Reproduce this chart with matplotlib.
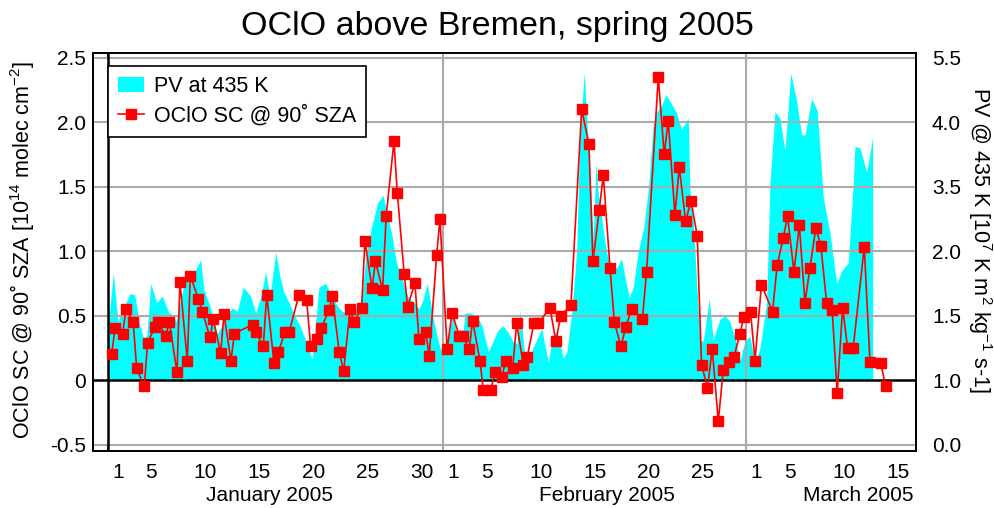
import matplotlib
matplotlib.use("Agg")
import matplotlib.pyplot as plt

plt.rcParams['font.family'] = ['Liberation Sans', 'DejaVu Sans']
plt.rcParams['mathtext.fontset'] = 'custom'
plt.rcParams['mathtext.rm'] = 'Liberation Sans'
plt.rcParams['mathtext.it'] = 'Liberation Sans:italic'
plt.rcParams['mathtext.bf'] = 'Liberation Sans:bold'

# Data: x is days since 1 Jan 2005 00:00 UT

# OClO slant columns at 90 deg SZA (morning and evening twilight), 1e14 molec/cm2
oclo_day = [
    0.34, 0.65, 1.35, 1.66, 2.33, 2.65, 3.35, 3.66, 4.34, 4.65,
    5.33, 5.67, 6.38, 6.65, 7.33, 7.61, 8.35, 8.72, 9.43, 9.73,
    10.41, 10.72, 11.37, 11.68, 13.37, 13.68, 14.35, 14.67, 15.35, 15.75,
    16.36, 16.73, 17.65, 18.36, 18.73, 19.34, 19.69, 20.43, 20.73, 21.37,
    21.78, 22.37, 22.74, 23.44, 23.75, 24.40, 24.72, 25.38, 25.71, 26.43,
    26.74, 27.38, 27.69, 28.37, 28.74, 29.36, 29.69, 30.38, 30.68, 31.35,
    31.80, 32.47, 32.78, 33.39, 33.70, 34.38, 34.69, 35.37, 35.77, 36.39,
    36.76, 37.40, 37.77, 38.38, 38.75, 39.37, 39.77, 40.85, 41.40, 41.84,
    42.79, 43.78, 44.45, 44.82, 45.41, 45.78, 46.40, 46.80, 47.41, 47.85,
    48.40, 49.39, 49.78, 50.86, 51.41, 51.78, 52.40, 52.80, 53.39, 53.88,
    54.46, 54.86, 55.41, 55.85, 56.41, 56.87, 57.40, 57.86, 58.41, 58.78,
    59.39, 59.80, 60.40, 61.42, 61.85, 62.41, 62.81, 63.40, 63.90, 64.42,
    64.88, 65.43, 65.89, 66.42, 66.94, 67.40, 67.90, 68.36, 68.88, 69.90,
    70.43, 71.42, 71.88,
]
oclo_sc = [
    0.20, 0.40, 0.36, 0.55, 0.45, 0.09, -0.05, 0.29, 0.41, 0.45,
    0.34, 0.45, 0.06, 0.76, 0.15, 0.81, 0.63, 0.53, 0.33, 0.47,
    0.21, 0.51, 0.15, 0.36, 0.43, 0.37, 0.26, 0.66, 0.13, 0.22,
    0.37, 0.37, 0.66, 0.62, 0.26, 0.32, 0.40, 0.54, 0.65, 0.22,
    0.07, 0.55, 0.45, 0.56, 1.08, 0.71, 0.92, 0.70, 1.27, 1.85,
    1.45, 0.82, 0.57, 0.75, 0.32, 0.37, 0.19, 0.97, 1.25, 0.24,
    0.52, 0.34, 0.34, 0.24, 0.46, 0.15, -0.08, -0.08, 0.06, 0.02,
    0.15, 0.09, 0.44, 0.12, 0.18, 0.44, 0.44, 0.56, 0.30, 0.50,
    0.58, 2.10, 1.83, 0.92, 1.32, 1.59, 0.87, 0.45, 0.26, 0.41,
    0.55, 0.47, 0.84, 2.35, 1.75, 2.01, 1.28, 1.65, 1.23, 1.39,
    1.12, 0.12, -0.06, 0.24, -0.32, 0.08, 0.14, 0.18, 0.36, 0.49,
    0.53, 0.15, 0.74, 0.53, 0.89, 1.10, 1.27, 0.84, 1.20, 0.60,
    0.87, 1.18, 1.04, 0.60, 0.54, -0.10, 0.56, 0.25, 0.25, 1.03,
    0.14, 0.13, -0.05,
]

# PV at 435 K, as drawn on the OClO scale
pv_day = [
    0.05, 0.49, 0.92, 1.29, 1.66, 2.03, 2.47, 2.87, 3.33, 3.60,
    3.95, 4.50, 5.02, 5.64, 5.94, 6.28, 6.65, 7.18, 7.58, 8.04,
    8.57, 8.87, 9.43, 10.10, 10.54, 11.00, 11.49, 11.95, 12.50, 13.19,
    13.65, 14.14, 14.57, 14.97, 15.50, 15.90, 16.27, 16.73, 17.19, 17.74,
    18.30, 18.88, 19.50, 20.12, 20.73, 21.16, 21.65, 22.18, 22.83, 23.38,
    23.96, 24.40, 24.95, 25.42, 25.79, 26.25, 26.68, 27.05, 27.45, 27.82,
    28.28, 28.74, 29.11, 29.51, 29.97, 30.31, 30.75, 31.05, 31.42, 31.89,
    32.23, 32.72, 32.99, 33.46, 34.08, 34.57, 35.15, 35.58, 36.07, 36.51,
    36.97, 37.43, 37.80, 38.08, 38.54, 39.00, 39.56, 40.08, 40.69, 41.04,
    41.47, 42.08, 42.42, 42.86, 43.32, 43.62, 44.02, 44.24, 44.55, 44.85,
    45.10, 45.31, 45.78, 46.12, 46.55, 47.01, 47.48, 47.78, 48.18, 48.55,
    49.01, 49.47, 49.94, 50.40, 50.74, 51.17, 51.57, 51.94, 52.56, 53.02,
    53.33, 53.63, 53.79, 54.10, 54.41, 54.71, 55.02, 55.57, 55.94, 56.19,
    56.56, 57.02, 57.49, 57.95, 58.41, 58.87, 59.33, 59.80, 60.26, 60.88,
    61.18, 61.65, 62.11, 62.57, 63.10, 63.59, 64.11, 64.42, 65.04, 65.55,
    66.11, 66.73, 67.35, 67.84, 68.42, 68.88, 69.04, 69.50, 70.12, 70.67,
    70.68,
]
pv_val = [
    0.45, 0.83, 0.45, 0.55, 0.60, 0.67, 0.66, 0.45, 0.31, 0.35,
    0.75, 0.60, 0.65, 0.52, 0.51, 0.45, 0.60, 0.80, 0.75, 0.85,
    0.93, 0.70, 0.57, 0.36, 0.42, 0.50, 0.56, 0.53, 0.72, 0.65,
    0.52, 0.65, 0.84, 0.65, 0.99, 0.80, 0.68, 0.60, 0.51, 0.42,
    0.30, 0.16, 0.72, 0.75, 0.64, 0.58, 0.53, 0.52, 0.55, 0.60,
    1.03, 1.20, 1.38, 1.43, 1.30, 1.12, 0.90, 0.83, 0.70, 0.63,
    0.60, 0.55, 0.62, 0.75, 0.52, 0.38, 0.23, 0.28, 0.30, 0.54,
    0.33, 0.30, 0.52, 0.52, 0.50, 0.42, 0.22, 0.30, 0.39, 0.42,
    0.37, 0.30, 0.28, 0.54, 0.19, 0.20, 0.30, 0.40, 0.14, 0.30,
    0.39, 0.17, 0.22, 0.52, 1.00, 1.91, 2.38, 2.04, 1.60, 1.11,
    1.68, 1.45, 1.16, 0.98, 0.85, 0.87, 0.94, 0.80, 0.64, 0.72,
    1.00, 1.16, 1.47, 1.99, 2.08, 2.13, 2.21, 2.16, 2.07, 1.94,
    1.99, 2.03, 1.47, 1.24, 0.75, 0.31, 0.30, 0.63, 0.31, 0.38,
    0.47, 0.50, 0.45, 0.33, 0.15, 0.30, 0.34, 0.12, 0.25, 0.60,
    1.52, 2.08, 2.03, 1.78, 2.38, 2.19, 1.90, 1.90, 2.18, 2.09,
    1.42, 1.14, 0.75, 0.85, 0.91, 1.52, 1.81, 1.80, 1.61, 1.88,
    0.00,
]

# Axis ticks and labels
month_start = [0, 31, 59]
month_names = ['January 2005', 'February 2005', 'March 2005']
month_days = [[1, 5, 10, 15, 20, 25, 30], [1, 5, 10, 15, 20, 25], [1, 5, 10, 15]]
left_ticks = [-0.5, 0, 0.5, 1.0, 1.5, 2.0, 2.5]
left_labels = ['-0.5', '0', '0.5', '1.0', '1.5', '2.0', '2.5']
right_labels = ['0.0', '1.0', '1.5', '2.0', '3.5', '4.0', '5.5']

fig = plt.figure(figsize=(9.94, 5.08), dpi=100)
ax = fig.add_axes([0.0933, 0.1122, 0.8282, 0.7835])

ax.fill_between(pv_day, 0, pv_val, color='#00ffff', linewidth=0, zorder=1,
                label='PV at 435 K')

# grid
for y in left_ticks:
    if y != 0:
        ax.axhline(y, color='#aaaaaa', lw=1.5, zorder=2)
for x in month_start[1:]:
    ax.axvline(x, color='#aaaaaa', lw=1.5, zorder=2)
ax.axvline(month_start[0], color='black', lw=1.8, zorder=2.5)
ax.axhline(0, color='black', lw=1.8, zorder=2.5)

ax.plot(oclo_day, oclo_sc, color='#ff0000', lw=1.2, marker='s', ms=7,
        markeredgecolor='#ff0000', zorder=3, label='OClO SC @ 90˚ SZA')

ax.set_xlim(-1.41, 74.68)
ax.set_ylim(-0.55, 2.535)

# x ticks: marks at every labelled day, labels for day 1 nudged right
tick_marks = []
label_pos = []
label_txt = []
for start, days in zip(month_start, month_days):
    for d in days:
        tick_marks.append(start + d - 1)
        label_pos.append(start + d - 1 + (0.9 if d == 1 else 0))
        label_txt.append(str(d))
ax.set_xticks(label_pos)
ax.set_xticklabels(label_txt)
ax.set_xticks(tick_marks, minor=True)
ax.tick_params(axis='x', which='major', length=0, pad=8.5, labelsize=15)
ax.tick_params(axis='x', which='minor', direction='in', length=4, width=1.2,
               top=True, bottom=True)

ax.set_yticks(left_ticks)
ax.set_yticklabels(left_labels)
ax.tick_params(axis='y', which='major', length=0, pad=4.8, labelsize=15)

month_center = [14.97, 46.1, 69.3]
for xc, name in zip(month_center, month_names):
    ax.text(xc, -0.111, name, transform=ax.get_xaxis_transform(),
            ha='center', va='center', fontsize=15)

for sp in ax.spines.values():
    sp.set_linewidth(1.3)
    sp.set_color('black')

ax2 = ax.twinx()
ax2.set_ylim(ax.get_ylim())
ax2.set_yticks(left_ticks)
ax2.set_yticklabels(right_labels)
ax2.set_yticks([left_ticks[0], left_ticks[-1]], minor=True)
ax2.tick_params(axis='y', which='major', length=0, pad=11.5, labelsize=15)
ax2.tick_params(axis='y', which='minor', direction='in', length=7, width=1.3)
for sp in ax2.spines.values():
    sp.set_linewidth(1.3)

leg = ax.legend(loc='upper left', bbox_to_anchor=(0.0186, 0.967),
                borderaxespad=0, fontsize=15.5, fancybox=False, framealpha=1,
                edgecolor='black', handlelength=1.2, handletextpad=0.5,
                borderpad=0.45, labelspacing=0.4, numpoints=1)
leg.get_frame().set_linewidth(1.2)
leg.set_zorder(10)

fig.text(0.5, 0.948, 'OClO above Bremen, spring 2005', ha='center', va='center',
         fontsize=24.5)
fig.text(0.022, 0.508, r'OClO SC @ 90˚ SZA [10$^{14}$ molec cm$^{-2}$]',
         rotation=90, ha='center', va='center', fontsize=15.5)
fig.text(0.986, 0.527, r'PV @ 435 K [10$^{7}$ K m$^{2}$ kg$^{-1}$ s-1]',
         rotation=270, ha='center', va='center', fontsize=15.5)

fig.savefig('out.png', dpi=100)
